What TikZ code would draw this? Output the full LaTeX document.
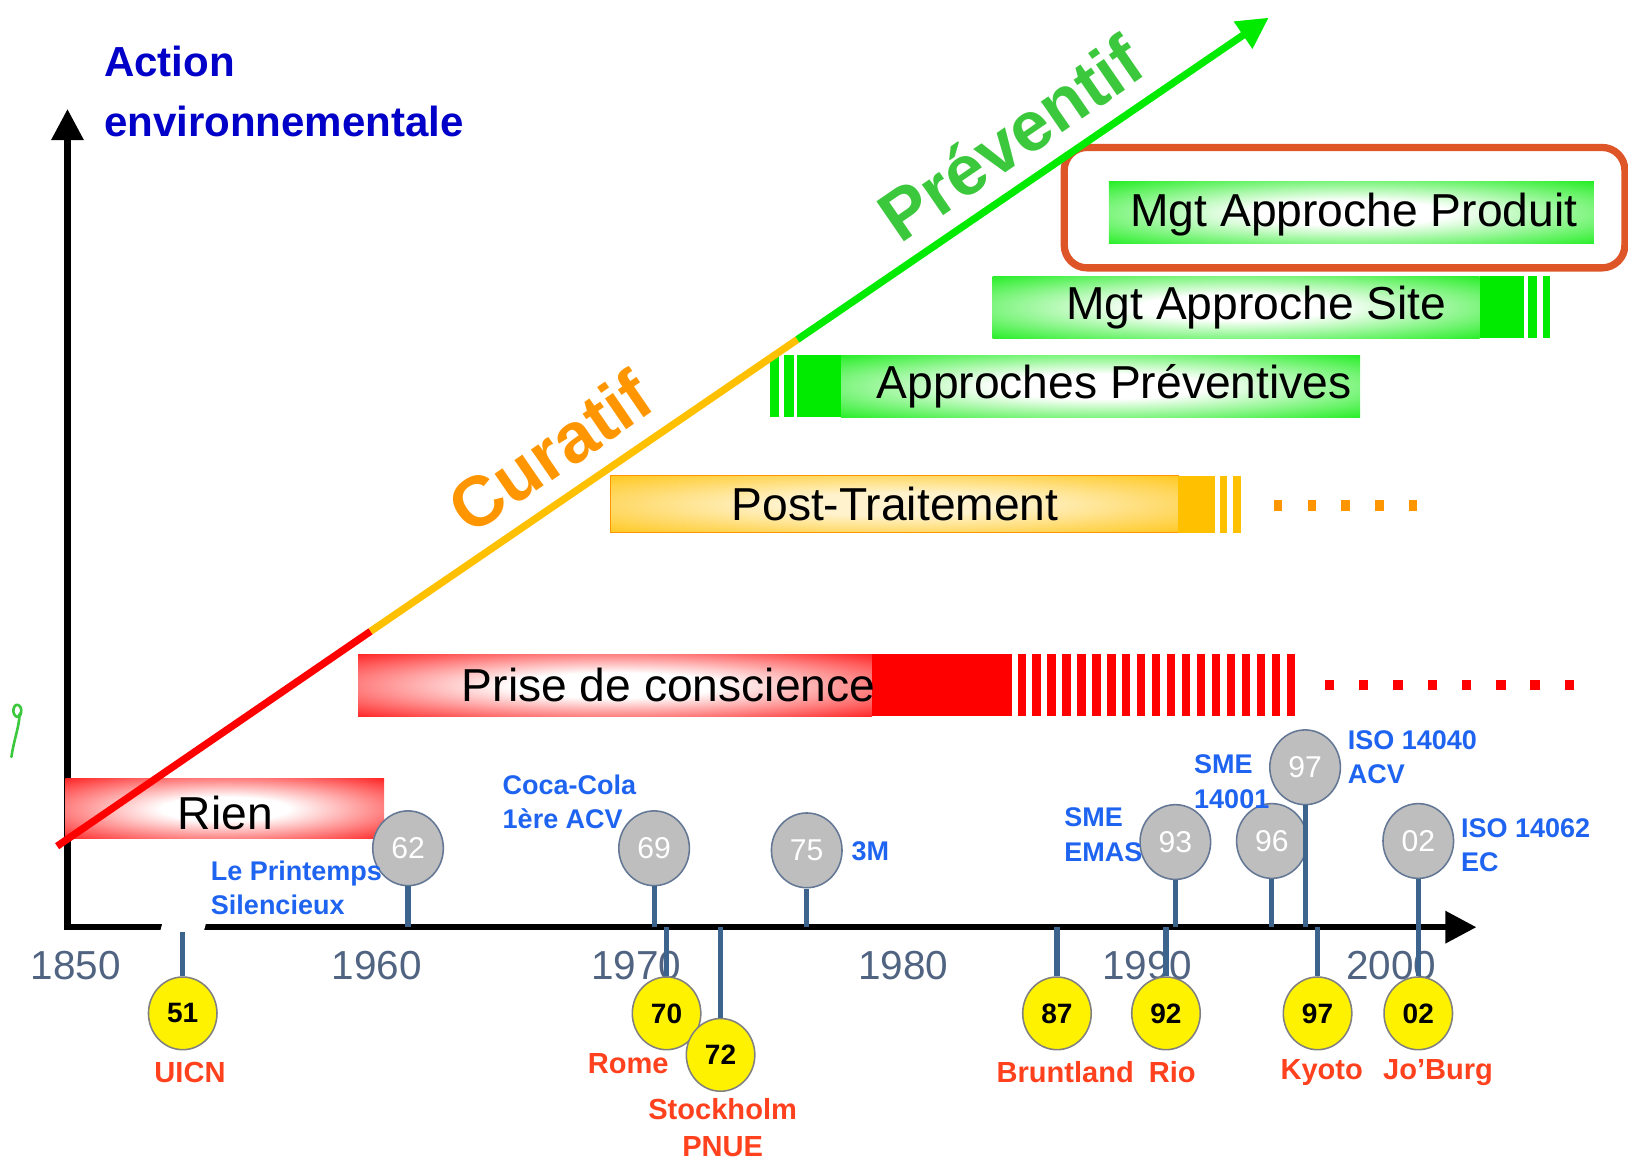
\documentclass[tikz,border=0pt]{standalone}
\usepackage{fontspec}
\setmainfont{Liberation Sans}
\usetikzlibrary{shapes.geometric,arrows.meta}

\definecolor{axisgray}{RGB}{80,100,130}
\definecolor{labelblue}{RGB}{30,100,240}
\definecolor{labelred}{RGB}{255,65,30}
\definecolor{titleblue}{RGB}{0,0,200}
\definecolor{barred}{RGB}{255,0,0}
\definecolor{bargold}{RGB}{255,192,0}
\definecolor{bargreen}{RGB}{0,235,0}
\definecolor{curorange}{RGB}{255,150,0}
\definecolor{prevgreen}{RGB}{60,200,60}
\definecolor{stemblue}{RGB}{60,100,140}
\definecolor{circgray}{RGB}{190,190,190}
\definecolor{circborder}{RGB}{100,120,150}
\definecolor{framered}{RGB}{222,85,40}

\pgfdeclareradialshading{glowred}{\pgfpointorigin}{color(0bp)=(white); color(10bp)=(white); color(40bp)=(barred); color(50bp)=(barred)}
\pgfdeclareradialshading{glowgold}{\pgfpointorigin}{color(0bp)=(white!80!bargold); color(10bp)=(white!80!bargold); color(40bp)=(bargold); color(50bp)=(bargold)}
\pgfdeclareradialshading{glowgreen}{\pgfpointorigin}{color(0bp)=(white); color(10bp)=(white); color(40bp)=(bargreen); color(50bp)=(bargreen)}

\newcommand{\pxsize}[2]{\fontsize{#1pt}{#2pt}\selectfont}

\begin{document}
\begin{tikzpicture}[x=1pt, y=-1pt,
    barlabel/.style={font=\pxsize{44.5}{50}, text=black, inner sep=0},
    yearlabel/.style={font=\pxsize{39}{45}, text=axisgray, inner sep=0},
    bluelabel/.style={font=\bfseries\pxsize{26}{33}, text=labelblue, align=left, inner sep=0, anchor=west},
    redlabel/.style={font=\bfseries\pxsize{28}{36}, text=labelred, align=center, inner sep=0},
    greycirc/.style={ellipse, draw=circborder, line width=1.5pt, fill=circgray, minimum width=68pt, minimum height=72pt, inner sep=0, font=\pxsize{29}{30}, text=white},
    yellowcirc/.style={ellipse, draw=gray, line width=1.5pt, fill=yellow, minimum width=66pt, minimum height=70pt, inner sep=0, font=\bfseries\pxsize{27}{30}, text=black},
    stem/.style={line width=5pt, stemblue},
    axe/.style={line width=6pt, black, -{Triangle[length=30pt,width=30pt]}}]
  \useasboundingbox (0,0) rectangle (1568,1118);

  % Axes
  \coordinate (O) at (65,893);
  \coordinate (xend) at (1422,893);
  \coordinate (yend) at (65,105);
  \draw[axe] (65,896) -- (yend);
  \draw[axe] (62,893) -- (xend);
  \fill[white] (152,905) -- (159,880) -- (201,880) -- (194,905) -- cycle;
  \node[font=\bfseries\pxsize{40.5}{58}, text=titleblue, align=left, anchor=north west, inner sep=0] (titre) at (100,44) {Action\\environnementale};

  % Years
  \node[yearlabel] (y1850) at (73,930) {1850};
  \node[yearlabel] (y1960) at (363,930) {1960};
  \node[yearlabel] (y1970) at (613,930) {1970};
  \node[yearlabel] (y1980) at (870,930) {1980};
  \node[yearlabel] (y1990) at (1105,930) {1990};
  \node[yearlabel] (y2000) at (1340,930) {2000};

  % Bars
  \shade[shading=glowred] (63,750) rectangle (370,808);
  \node[barlabel] (rien) at (217,783) {Rien};

  \shade[shading=glowred] (345,630) rectangle (840,690);
  \fill[barred] (840,630) rectangle (975,690);
  \foreach \i in {0,...,18}
    \fill[barred] ({980+\i*14.4},630) rectangle ++(8,60);
  \foreach \i in {0,...,7}
    \fill[barred] ({1276+\i*33},655) rectangle ++(9,10);
  \node[barlabel] (prise) at (644,660) {Prise de conscience};

  \shade[shading=glowgold, draw=curorange, line width=1pt] (588,458) rectangle (1135,513);
  \fill[bargold] (1135,458) rectangle (1170,513);
  \fill[bargold] (1175,458) rectangle (1182,513);
  \fill[bargold] (1188,458) rectangle (1195,513);
  \foreach \i in {0,...,4}
    \fill[curorange] ({1227+\i*32.5},482) rectangle ++(8,10);
  \node[barlabel] (post) at (862,485) {Post-Traitement};

  \fill[bargreen] (742,342) rectangle (750,402);
  \fill[bargreen] (755,342) rectangle (765,402);
  \fill[bargreen] (768,342) rectangle (810,402);
  \shade[shading=glowgreen] (810,342) rectangle (1310,402);
  \node[barlabel] (approches) at (1073,372) {Approches Préventives};

  \shade[shading=glowgreen] (956,266) rectangle (1425,326);
  \fill[bargreen] (1425,266) rectangle (1468,326);
  \fill[bargreen] (1472,266) rectangle (1480,326);
  \fill[bargreen] (1486,266) rectangle (1493,326);
  \node[barlabel] (site) at (1210,296) {Mgt Approche Site};

  \shade[shading=glowgreen] (1068,175) rectangle (1535,235);
  \node[barlabel] (produit) at (1304,207) {Mgt Approche Produit};
  \draw[framered, line width=7pt, rounded corners=22pt] (1025,142) rectangle (1565,258);

  % Diagonal
  \coordinate (d0) at (55,815);
  \coordinate (d1) at (357,608);
  \coordinate (d2) at (768,327);
  \coordinate (d3) at (1222,17);
  \draw[line width=7pt, barred] (d0) -- (d1);
  \draw[line width=7pt, bargold] (d1) -- (d2);
  \draw[line width=7pt, bargreen, -{Triangle[length=30pt,width=30pt]}] (d2) -- (d3);
  \node[font=\bfseries\pxsize{68}{70}, text=curorange, rotate=34.5] (curatif) at (530,435) {Curatif};
  \node[font=\bfseries\pxsize{68}{70}, text=prevgreen, rotate=34.5] (preventif) at (973,133) {Préventif};

  % Events above the axis
  \node[greycirc] (g62) at (393,817) {62};
  \node[greycirc] (g69) at (630,817) {69};
  \node[greycirc] (g75) at (777,819) {75};
  \node[greycirc] (g93) at (1132,811) {93};
  \node[greycirc] (g96) at (1225,810) {96};
  \node[greycirc] (g97) at (1257,739) {97};
  \node[greycirc] (g02) at (1366,810) {02};
  \foreach \n in {g62,g69,g75,g93,g96,g97,g02}
    \draw[stem] (\n.south) -- (\n.south |- O);
  \node[bluelabel] (printemps) at (203,855) {Le Printemps\\Silencieux};
  \node[bluelabel] (coca) at (484,772) {Coca-Cola\\1ère ACV};
  \node[bluelabel] (troism) at (820,820) {3M};
  \node[bluelabel] (emas) at (1025,804) {SME\\EMAS};
  \node[bluelabel] (sme) at (1150,753) {SME\\14001};
  \node[bluelabel] (iso40) at (1298,729) {ISO 14040\\ACV};
  \node[bluelabel] (iso62) at (1407,814) {ISO 14062\\EC};

  % Events below the axis
  \node[yellowcirc] (j51) at (176,976) {51};
  \node[yellowcirc] (j70) at (642,976) {70};
  \node[yellowcirc] (j72) at (694,1016) {72};
  \node[yellowcirc] (j87) at (1018,976) {87};
  \node[yellowcirc] (j92) at (1123,976) {92};
  \node[yellowcirc] (j97) at (1269,976) {97};
  \node[yellowcirc] (j02) at (1366,976) {02};
  \draw[stem] (j51.north) -- ++(0,-43);
  \foreach \n in {j70,j72,j87,j92,j97,j02}
    \draw[stem] (\n.north) -- (\n.north |- O);
  \node[redlabel] (uicn) at (183,1033) {UICN};
  \node[redlabel] (rome) at (605,1024) {Rome};
  \node[redlabel] (stockholm) at (696,1086) {Stockholm\\PNUE};
  \node[redlabel] (bruntland) at (1026,1033) {Bruntland};
  \node[redlabel] (rio) at (1129,1033) {Rio};
  \node[redlabel] (kyoto) at (1273,1033) {Kyoto};
  \node[redlabel] (joburg) at (1385,1033) {Jo’Burg};

  % Sprout
  \draw[prevgreen, line width=2.5pt, line cap=round] (19,690) .. controls (24,681) and (15,674) .. (13,683) .. controls (12,690) and (18,693) .. (19,688) .. controls (18,702) and (13,714) .. (11,729);
\end{tikzpicture}
\end{document}
